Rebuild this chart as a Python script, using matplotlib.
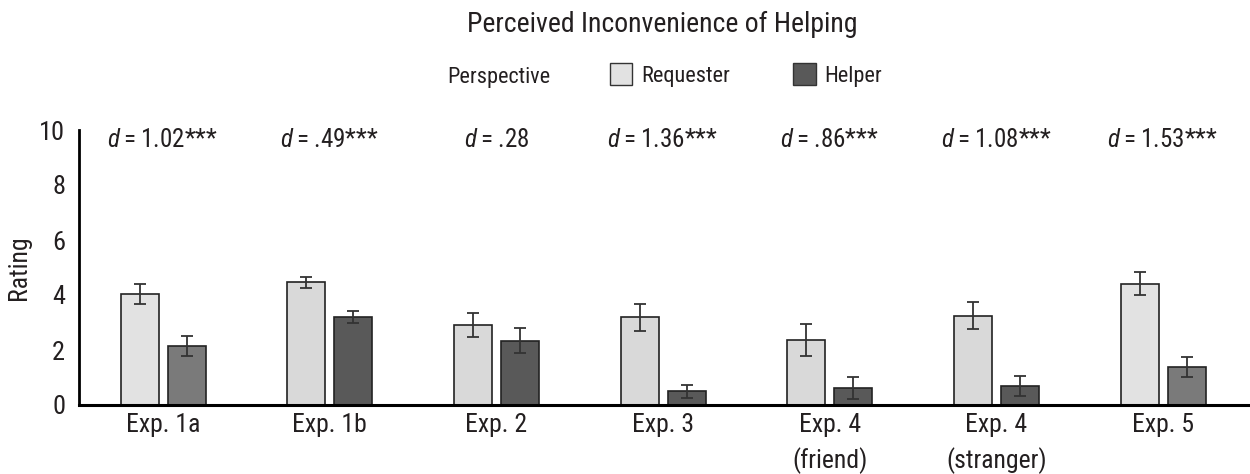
import matplotlib
matplotlib.use("Agg")
import matplotlib.pyplot as plt
import numpy as np
from matplotlib.patches import Patch

plt.rcParams['font.family'] = ['Roboto Condensed', 'DejaVu Sans']
plt.rcParams['mathtext.fontset'] = 'custom'
plt.rcParams['mathtext.it'] = 'Roboto Condensed:italic'
plt.rcParams['mathtext.rm'] = 'Roboto Condensed'

experiments = ["Exp. 1a", "Exp. 1b", "Exp. 2", "Exp. 3", "Exp. 4\n(friend)", "Exp. 4\n(stranger)", "Exp. 5"]
requester_mean = [4.03, 4.47, 2.91, 3.19, 2.36, 3.25, 4.41]
requester_err = [0.36, 0.20, 0.42, 0.49, 0.58, 0.50, 0.41]
helper_mean = [2.15, 3.21, 2.34, 0.50, 0.62, 0.70, 1.38]
helper_err = [0.37, 0.22, 0.45, 0.24, 0.40, 0.37, 0.37]
effect_labels = ["1.02***", ".49***", ".28", "1.36***", ".86***", "1.08***", "1.53***"]

requester_colors = ["#e2e2e2", "#d9d9d9", "#d9d9d9", "#d9d9d9", "#d9d9d9", "#d9d9d9", "#e2e2e2"]
helper_colors = ["#7a7a7a", "#595959", "#595959", "#595959", "#595959", "#595959", "#7a7a7a"]
ink = "#231f20"

fig = plt.figure(figsize=(12.5, 4.74), dpi=100)
ax = fig.add_axes([79 / 1250, 1 - 405 / 474, (1248 - 79) / 1250, 275 / 474])

x = np.arange(len(experiments))
width = 0.228
offset = 0.141
err_style = dict(ecolor="#333333", elinewidth=1.3, capsize=4.5, capthick=1.3)
ax.bar(x - offset, requester_mean, width, color=requester_colors, edgecolor="#222222", linewidth=1.2,
       yerr=requester_err, error_kw=err_style, zorder=2)
ax.bar(x + offset, helper_mean, width, color=helper_colors, edgecolor="#222222", linewidth=1.2,
       yerr=helper_err, error_kw=err_style, zorder=2)

for xi, lab in zip(x, effect_labels):
    ax.text(xi, 9.62, r"$d$" + "\u2009=\u2009" + lab, ha="center", va="center", fontsize=18, color=ink)

ax.set_xlim(-0.504, 6.51)
ax.set_ylim(0, 10)
ax.set_yticks([0, 2, 4, 6, 8, 10])
ax.set_xticks(x)
ax.set_xticklabels(experiments, fontsize=18.5, color=ink, linespacing=1.45, va="top")
ax.tick_params(axis="y", labelsize=19, labelcolor=ink, length=0, pad=10)
ax.tick_params(axis="x", length=0, pad=6)
for side in ["top", "right"]:
    ax.spines[side].set_visible(False)
ax.spines["left"].set_linewidth(2)
ax.spines["bottom"].set_linewidth(2.2)
ax.spines["bottom"].set_zorder(3)
ax.set_ylabel("Rating", fontsize=18.5, color=ink, labelpad=6)

fig.text(662 / 1250, 1 - 24 / 474, "Perceived Inconvenience of Helping", ha="center", va="center",
         fontsize=20, color=ink)
fig.text(447 / 1250, 1 - 77 / 474, "Perspective", ha="left", va="center", fontsize=16, color=ink)

handles = [Patch(facecolor="#e2e2e2", edgecolor="#333333", label="Requester"),
           Patch(facecolor="#595959", edgecolor="#333333", label="Helper")]
fig.legend(handles=handles, loc="center left", bbox_to_anchor=(590 / 1250, 1 - 75 / 474), ncol=2,
           frameon=False, fontsize=16, handlelength=1.0, handleheight=1.1, handletextpad=0.4,
           columnspacing=2.85, labelcolor=ink)

fig.savefig("out.png", dpi=100)
